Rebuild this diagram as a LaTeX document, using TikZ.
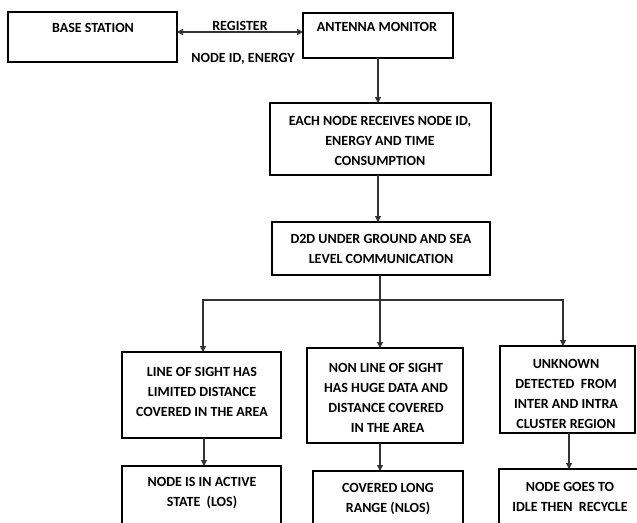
\documentclass[tikz,border=0pt]{standalone}
\usepackage{fontspec}
\setmainfont{Carlito}
\usetikzlibrary{arrows.meta}
\begin{document}
\begin{tikzpicture}[x=1pt,y=-1pt,
  box/.style={draw=black,line width=2.6pt,rectangle,inner sep=0pt,outer sep=0pt},
  txt/.style={font=\fontsize{14}{20}\selectfont\bfseries,align=center,inner sep=0pt,text=black},
  conn/.style={draw=black!80,line width=1.1pt},
  arr/.style={conn,-{Triangle[length=6pt,width=6pt]}},
  darr/.style={conn,{Triangle[length=6pt,width=6pt]}-{Triangle[length=6pt,width=6pt]}}]
\useasboundingbox (0,0) rectangle (637,522);
\clip (0,0) rectangle (637,522);
\fill[white] (0,0) rectangle (637,522);
% boxes
\node[box,minimum width=169pt,minimum height=50pt] (bs) at (92.5,37) {};
\node[box,minimum width=150pt,minimum height=45pt] (am) at (378,35.5) {};
\node[box,minimum width=221pt,minimum height=72pt] (each) at (380.5,139) {};
\node[box,minimum width=218pt,minimum height=53pt] (d2d) at (381,248.5) {};
\node[box,minimum width=159pt,minimum height=86pt] (los) at (201.5,395) {};
\node[box,minimum width=156pt,minimum height=95pt] (nlos) at (385,395.5) {};
\node[box,minimum width=135pt,minimum height=87pt] (unk) at (567.5,389.5) {};
\node[box,minimum width=159pt,minimum height=94pt] (act) at (201.5,513) {};
\node[box,minimum width=150pt,minimum height=89pt] (cov) at (388,515.5) {};
\node[box,minimum width=151pt,minimum height=91pt] (idle) at (574.5,514.5) {};
% texts
\node[txt] (bsT) at (93,28) {BASE STATION};
\node[txt] (amT) at (377,27) {ANTENNA MONITOR};
\node[txt] (eachT) at (380,141) {EACH NODE RECEIVES NODE ID,\\ENERGY AND TIME\\CONSUMPTION};
\node[txt] (d2dT) at (381,248.5) {D2D UNDER GROUND AND SEA\\LEVEL COMMUNICATION};
\node[txt] (losT) at (202,391.5) {LINE OF SIGHT HAS\\LIMITED DISTANCE\\COVERED IN THE AREA};
\node[txt] (nlosT) at (386,398) {NON LINE OF SIGHT\\HAS HUGE DATA AND\\DISTANCE COVERED\\\ IN THE AREA};
\node[txt] (unkT) at (566,394.3) {UNKNOWN\\DETECTED\ \ FROM\\INTER AND INTRA\\CLUSTER REGION};
\node[txt] (actT) at (202,493) {NODE IS IN ACTIVE\\STATE\ \ (LOS)};
\node[txt] (covT) at (388,499) {COVERED LONG\\RANGE (NLOS)};
\node[txt] (idleT) at (570,496.5) {NODE GOES TO\\IDLE THEN\ \ RECYCLE};
% top link
\draw[darr] ([yshift=5pt]bs.east) -- ([yshift=5pt]bs.east -| am.west)
  node[midway,above=1pt,txt] (reg) {REGISTER};
\node[txt] (nid) at (243,59) {NODE ID, ENERGY};
% vertical flow
\draw[arr] (am.south) -- (am.south |- each.north);
\draw[arr] ([xshift=-2.5pt]each.south) -- ([xshift=-2.5pt]each.south |- d2d.north);
\coordinate (j) at (380,300);
\draw[conn] (d2d.south -| j) -- (j);
\draw[arr] (j) -| ([xshift=1.5pt]los.north);
\draw[arr] (j) -- (j |- nlos.north);
\draw[arr] (j) -| ([xshift=-4.5pt]unk.north);
\draw[arr] ([xshift=2.5pt]los.south) -- ([xshift=2.5pt]los.south |- act.north);
\draw[arr] ([xshift=-5pt]nlos.south) -- ([xshift=-5pt]nlos.south |- cov.north);
\draw[arr] ([xshift=1.5pt]unk.south) -- ([xshift=1.5pt]unk.south |- idle.north);
\end{tikzpicture}
\end{document}
